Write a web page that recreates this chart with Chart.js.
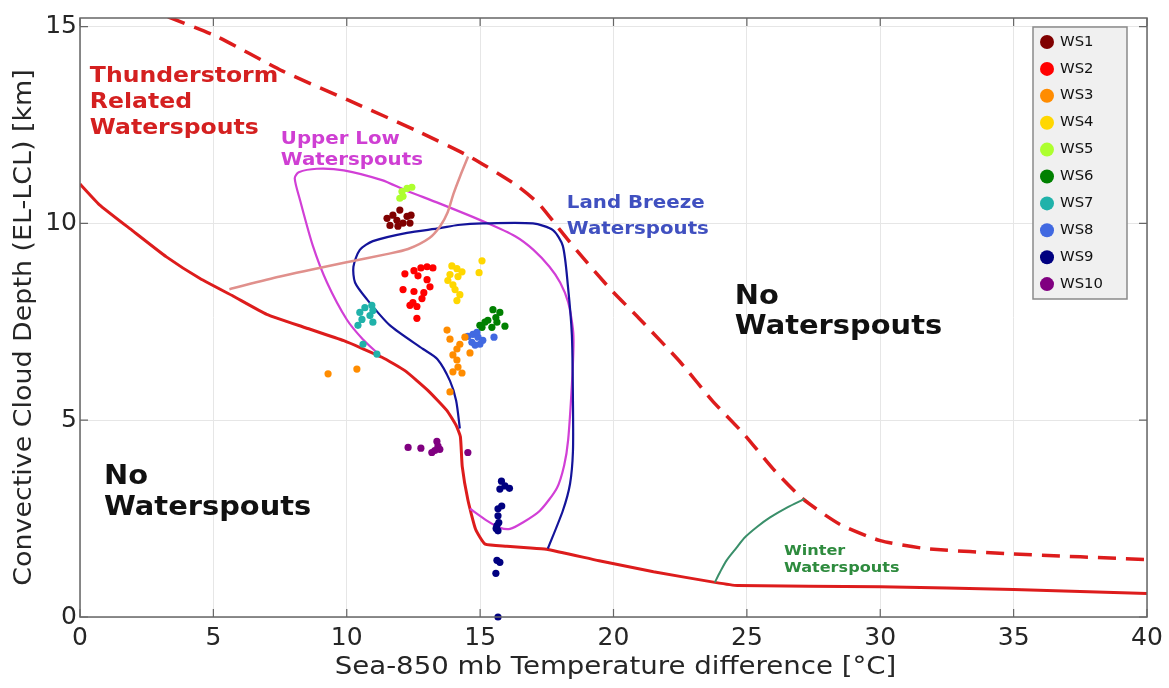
<!DOCTYPE html>
<html><head><meta charset="utf-8">
<script src="https://cdn.jsdelivr.net/npm/chart.js@4.4.1/dist/chart.umd.min.js"></script>
<style>html,body{margin:0;padding:0;background:#fff;}#wrap{width:1169px;height:688px;}</style>
</head><body><div id="wrap"><canvas id="c" width="1169" height="688"></canvas></div>
<script>
// ---------- tick labels / titles ----------
const xTicks = [0, 5, 10, 15, 20, 25, 30, 35, 40];
const yTicks = [0, 5, 10, 15];
const xTitle = 'Sea-850 mb Temperature difference [°C]';
const yTitle = 'Convective Cloud Depth (EL-LCL) [km]';

// ---------- boundary curves ----------
const redSolidX = [0, 0.72, 1.98, 3.24, 4.5, 5.75, 7.0, 8.45, 9.89, 11.32, 12.18, 13.04, 13.75, 14.1, 14.26, 14.33, 14.54, 14.83, 15.19, 16.0, 16.76, 17.48, 19.46, 21.5, 23.8, 24.65, 30, 35, 40];
const redSolidY = [11.0, 10.48, 9.81, 9.15, 8.6, 8.15, 7.69, 7.35, 7.02, 6.6, 6.26, 5.76, 5.25, 4.87, 4.58, 3.82, 2.98, 2.23, 1.85, 1.8, 1.76, 1.72, 1.43, 1.15, 0.88, 0.8, 0.77, 0.7, 0.6];

const redDashX = [3.3, 5.1, 7.6, 10.1, 12.6, 14.6, 16.3, 17.2, 18.0, 18.7, 19.9, 21.0, 22.5, 23.7, 24.9, 26.0, 27.1, 28.5, 30.0, 31.7, 35, 40];
const redDashY = [15.25, 14.76, 13.87, 13.12, 12.36, 11.7, 11.0, 10.5, 9.83, 9.25, 8.32, 7.56, 6.48, 5.5, 4.64, 3.75, 3.0, 2.35, 1.94, 1.74, 1.6, 1.46];

const pinkX = [5.6, 7.5, 9.9, 11.5, 12.3, 13.1, 13.5, 13.78, 14.0, 14.25, 14.55];
const pinkY = [8.33, 8.65, 9.0, 9.22, 9.35, 9.63, 9.93, 10.28, 10.75, 11.2, 11.7];

const upperLowX = [11.24, 10.6, 10.0, 9.26, 8.73, 8.25, 8.05, 8.2, 8.88, 9.89, 11.32, 12.18, 13.47, 15.2, 16.33, 17.0, 17.6, 18.0, 18.3, 18.48, 18.5, 18.44, 18.3, 18.15, 17.88, 17.24, 16.6, 16.12, 15.74, 15.25, 14.62];
const upperLowY = [6.65, 7.06, 7.56, 8.5, 9.43, 10.59, 11.15, 11.3, 11.39, 11.35, 11.1, 10.85, 10.51, 10.03, 9.67, 9.33, 8.9, 8.5, 8.0, 7.31, 6.9, 5.9, 4.5, 3.85, 3.28, 2.7, 2.4, 2.24, 2.27, 2.45, 2.75];

const landBreezeX = [14.24, 14.1, 13.87, 13.4, 12.86, 11.62, 10.76, 10.31, 10.25, 10.49, 10.98, 12.26, 13.49, 14.17, 15.1, 16.98, 17.73, 18.1, 18.29, 18.44, 18.48, 18.48, 18.37, 18.1, 17.54];
const landBreezeY = [4.79, 5.5, 6.0, 6.55, 6.81, 7.41, 8.07, 8.5, 8.9, 9.33, 9.55, 9.76, 9.88, 9.96, 10.0, 10.0, 9.83, 9.43, 8.42, 7.16, 5.47, 4.21, 3.38, 2.7, 1.74];

const winterX = [23.8, 24.0, 24.24, 24.6, 24.92, 25.4, 25.87, 26.5, 27.16];
const winterY = [0.88, 1.15, 1.44, 1.75, 2.02, 2.3, 2.53, 2.78, 3.0];

// ---------- waterspout cases ----------
const wsNames = ['WS1', 'WS2', 'WS3', 'WS4', 'WS5', 'WS6', 'WS7', 'WS8', 'WS9', 'WS10'];
const ws1X = [11.51, 11.73, 11.99, 12.26, 12.37, 11.92, 11.62, 12.11, 11.88, 12.41];
const ws1Y = [10.13, 10.21, 10.34, 10.18, 10.01, 9.93, 9.95, 10.01, 10.08, 10.21];
const ws2X = [12.18, 12.52, 12.78, 13.01, 13.23, 12.67, 13.01, 12.11, 12.52, 13.12, 12.89, 12.82, 12.48, 12.37, 12.63, 12.63];
const ws2Y = [8.72, 8.80, 8.87, 8.90, 8.87, 8.67, 8.57, 8.32, 8.27, 8.39, 8.24, 8.09, 7.99, 7.92, 7.89, 7.59];
const ws3X = [9.3, 10.38, 13.76, 13.87, 14.43, 14.24, 14.13, 13.98, 14.13, 14.17, 13.98, 14.32, 14.62, 13.87];
const ws3Y = [6.18, 6.30, 7.29, 7.06, 7.11, 6.93, 6.81, 6.66, 6.53, 6.35, 6.23, 6.20, 6.71, 5.72];
const ws4X = [13.94, 14.13, 14.32, 13.87, 14.17, 13.79, 13.98, 14.06, 14.24, 14.13, 15.07, 14.96];
const ws4Y = [8.92, 8.85, 8.77, 8.70, 8.65, 8.55, 8.44, 8.32, 8.19, 8.04, 9.05, 8.75];
const ws5X = [12.07, 12.26, 12.44, 12.11, 11.99];
const ws5Y = [10.81, 10.89, 10.92, 10.69, 10.64];
const ws6X = [15.48, 15.74, 15.59, 15.29, 15.07, 15.44, 15.63, 15.93, 15.18, 14.99];
const ws6Y = [7.81, 7.74, 7.61, 7.54, 7.36, 7.36, 7.49, 7.39, 7.49, 7.41];
const ws7X = [10.49, 10.68, 10.94, 10.98, 10.57, 10.42, 10.87, 10.98, 10.61, 11.13];
const ws7Y = [7.74, 7.86, 7.92, 7.79, 7.56, 7.41, 7.66, 7.49, 6.93, 6.68];
const ws8X = [14.54, 14.73, 14.92, 14.99, 14.81, 15.10, 14.69, 15.52, 14.88];
const ws8Y = [7.13, 7.18, 7.11, 6.93, 6.91, 7.03, 6.98, 7.11, 7.23];
const ws9X = [15.8, 15.93, 16.1, 15.74, 15.81, 15.67, 15.67, 15.63, 15.67, 15.6, 15.7, 15.63, 15.74, 15.59, 15.67];
const ws9Y = [3.45, 3.33, 3.27, 3.25, 2.82, 2.75, 2.57, 2.32, 2.19, 2.25, 2.4, 1.44, 1.39, 1.11, 0.0];
const ws10X = [12.3, 12.78, 13.19, 13.38, 13.49, 13.3, 13.42, 14.54];
const ws10Y = [4.31, 4.29, 4.18, 4.46, 4.26, 4.23, 4.34, 4.18];

const wsXs = [ws1X, ws2X, ws3X, ws4X, ws5X, ws6X, ws7X, ws8X, ws9X, ws10X];
const wsYs = [ws1Y, ws2Y, ws3Y, ws4Y, ws5Y, ws6Y, ws7Y, ws8Y, ws9Y, ws10Y];

// ---------- styles ----------
const wsColors = ['#800000', '#ff0000', '#ff8c00', '#ffd700', '#adff2f', '#008000', '#20b2aa', '#4169e1', '#000080', '#800080'];

const notes = [
  { lines: ['Thunderstorm', 'Related', 'Waterspouts'], x: 0.37, y: [13.74, 13.08, 12.41], size: 22, sx: 1.07, color: '#d42020' },
  { lines: ['Upper Low', 'Waterspouts'], x: 7.53, y: [12.14, 11.60], size: 18, sx: 1.1, color: '#cf3fd3' },
  { lines: ['Land Breeze', 'Waterspouts'], x: 18.25, y: [10.51, 9.86], size: 18, sx: 1.1, color: '#4050c0' },
  { lines: ['No', 'Waterspouts'], x: 24.55, y: [8.14, 7.36], size: 27, sx: 1.07, color: '#111111' },
  { lines: ['No', 'Waterspouts'], x: 0.9, y: [3.55, 2.77], size: 27, sx: 1.07, color: '#111111' },
  { lines: ['Winter', 'Waterspouts'], x: 26.39, y: [1.66, 1.24], size: 14, sx: 1.15, color: '#2e8b3e' }
];

const zip = (xs, ys) => xs.map((v, i) => ({ x: v, y: ys[i] }));

function lineDs(xs, ys, color, width, extra) {
  return Object.assign({
    data: zip(xs, ys), showLine: true, pointRadius: 0, borderColor: color,
    borderWidth: width, tension: 0.25, fill: false, order: 1, isCurve: true
  }, extra || {});
}

const datasets = [];
wsNames.forEach((n, i) => {
  datasets.push({
    label: n, data: zip(wsXs[i], wsYs[i]), backgroundColor: wsColors[i],
    borderWidth: 0, pointRadius: 3.6, pointHoverRadius: 3.6, order: 0, clip: 6, isWS: true
  });
});
datasets.push(lineDs(pinkX, pinkY, '#e0908c', 2.5));
datasets.push(lineDs(landBreezeX, landBreezeY, '#14149a', 2.2));
datasets.push(lineDs(upperLowX, upperLowY, '#d13fd6', 2.2));
datasets.push(lineDs(winterX, winterY, '#3a8f6a', 2));
datasets.push(lineDs(redDashX, redDashY, '#dd1c1c', 3.5, { borderDash: [18, 10], tension: 0.2 }));
datasets.push(lineDs(redSolidX, redSolidY, '#dd1c1c', 3, { tension: 0.15 }));

Chart.defaults.font.family = "'DejaVu Sans', sans-serif";

const framePlugin = {
  id: 'frame',
  afterDatasetsDraw(chart) {
    const { ctx, chartArea: a, scales } = chart;
    ctx.save();
    ctx.strokeStyle = '#666666';
    ctx.lineWidth = 1.5;
    ctx.strokeRect(a.left, a.top, a.right - a.left, a.bottom - a.top);
    ctx.lineWidth = 1.2;
    ctx.beginPath();
    const tl = 8;
    xTicks.forEach(v => {
      const px = scales.x.getPixelForValue(v);
      ctx.moveTo(px, a.bottom); ctx.lineTo(px, a.bottom - tl);
      ctx.moveTo(px, a.top); ctx.lineTo(px, a.top + tl);
    });
    yTicks.forEach(v => {
      const py = scales.y.getPixelForValue(v);
      ctx.moveTo(a.left, py); ctx.lineTo(a.left + tl, py);
      ctx.moveTo(a.right, py); ctx.lineTo(a.right - tl, py);
    });
    ctx.stroke();
    ctx.restore();
  }
};

// axis titles (slightly widened glyphs, as in the source figure)
const titlesPlugin = {
  id: 'axisTitles',
  afterDraw(chart) {
    const { ctx, chartArea: a } = chart;
    ctx.save();
    ctx.font = "24px 'DejaVu Sans', sans-serif";
    ctx.fillStyle = '#262626';
    ctx.textAlign = 'center';
    ctx.textBaseline = 'middle';
    ctx.save();
    ctx.translate((a.left + a.right) / 2 + 2, a.bottom + 51);
    ctx.scale(1.15, 1);
    ctx.fillText(xTitle, 0, 0);
    ctx.restore();
    ctx.save();
    ctx.translate(25, (a.top + a.bottom) / 2 + 10);
    ctx.rotate(-Math.PI / 2);
    ctx.scale(1.12, 1);
    ctx.fillText(yTitle, 0, 0);
    ctx.restore();
    ctx.restore();
  }
};

const notesPlugin = {
  id: 'notes',
  afterDatasetsDraw(chart) {
    const { ctx, scales } = chart;
    ctx.save();
    ctx.textAlign = 'left';
    ctx.textBaseline = 'middle';
    notes.forEach(n => {
      ctx.font = 'bold ' + n.size + "px 'DejaVu Sans', sans-serif";
      ctx.fillStyle = n.color;
      const px = scales.x.getPixelForValue(n.x);
      n.lines.forEach((t, i) => {
        const py = scales.y.getPixelForValue(n.y[i]);
        ctx.save();
        ctx.translate(px, py);
        ctx.scale(n.sx, 1);
        ctx.fillText(t, 0, 0);
        ctx.restore();
      });
    });
    ctx.restore();
  }
};

const legendPlugin = {
  id: 'boxLegend',
  afterDraw(chart) {
    const { ctx, chartArea: a } = chart;
    const items = chart.data.datasets.filter(d => d.isWS);
    const bx = a.right - 114, by = a.top + 9, bw = 94, bh = 272;
    ctx.save();
    ctx.fillStyle = '#f0f0f0';
    ctx.fillRect(bx, by, bw, bh);
    ctx.strokeStyle = '#8a8a8a';
    ctx.lineWidth = 1.5;
    ctx.strokeRect(bx, by, bw, bh);
    ctx.font = "14px 'DejaVu Sans', sans-serif";
    ctx.textAlign = 'left';
    ctx.textBaseline = 'middle';
    items.forEach((d, i) => {
      const cy = by + 15 + i * 26.9;
      ctx.fillStyle = d.backgroundColor;
      ctx.beginPath();
      ctx.arc(bx + 14, cy, 7, 0, Math.PI * 2);
      ctx.fill();
      ctx.fillStyle = '#111111';
      ctx.save();
      ctx.translate(bx + 27, cy);
      ctx.scale(1.06, 1);
      ctx.fillText(d.label, 0, 0);
      ctx.restore();
    });
    ctx.restore();
  }
};

new Chart(document.getElementById('c'), {
  type: 'scatter',
  data: { datasets },
  options: {
    responsive: false,
    animation: false,
    devicePixelRatio: 1,
    layout: { padding: { left: 0, right: 22, top: 13, bottom: 0 } },
    plugins: { legend: { display: false }, tooltip: { enabled: false } },
    scales: {
      x: {
        type: 'linear', min: 0, max: 40,
        afterBuildTicks: s => { s.ticks = xTicks.map(v => ({ value: v })); },
        afterFit: s => { s.height = 71; },
        grid: { color: '#e6e6e6', lineWidth: 1, drawTicks: false },
        border: { display: false },
        ticks: { padding: 6, font: { size: 25 }, color: '#262626', maxRotation: 0, autoSkip: false },
        title: { display: false, text: xTitle }
      },
      y: {
        type: 'linear', min: 0, max: 15.22,
        afterBuildTicks: s => { s.ticks = yTicks.map(v => ({ value: v })); },
        afterFit: s => { s.width = 80; },
        grid: { color: '#e6e6e6', lineWidth: 1, drawTicks: false },
        border: { display: false },
        ticks: { padding: 3, font: { size: 25 }, color: '#262626', autoSkip: false },
        title: { display: false, text: yTitle }
      }
    }
  },
  plugins: [framePlugin, notesPlugin, titlesPlugin, legendPlugin]
});
</script></body></html>
